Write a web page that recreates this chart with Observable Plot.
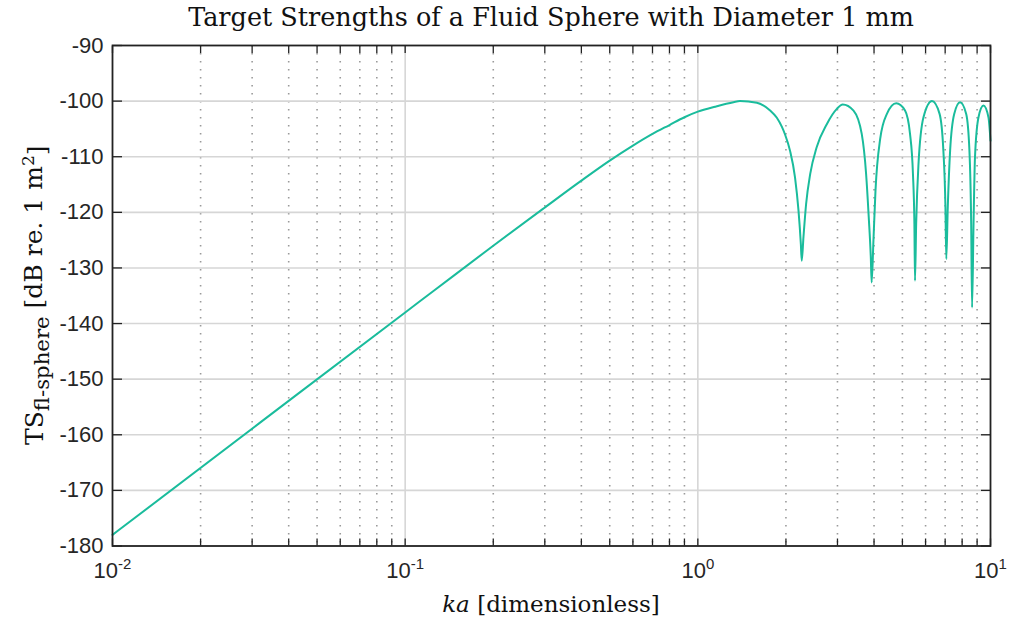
<!DOCTYPE html>
<html>
<head>
<meta charset="utf-8">
<script src="https://cdn.jsdelivr.net/npm/d3@7"></script>
<script src="https://cdn.jsdelivr.net/npm/@observablehq/plot@0.6"></script>
<style>
  html, body { margin: 0; padding: 0; background: #fff; }
  #title { width: 1010px; box-sizing: border-box; padding-left: 112px; padding-right: 20px; height: 34px;
           text-align: center; font-family: "DejaVu Serif", serif; font-size: 25.5px; line-height: 34px; color: #111; white-space: nowrap; }
</style>
</head>
<body>
<div id="title">Target Strengths of a Fluid Sphere with Diameter 1 mm</div>
<div id="chart"></div>
<script>
// ka [dimensionless]
const ka = [0.01, 0.0316, 0.1, 0.1246, 0.2, 0.297, 0.40, 0.50, 0.60, 0.70, 0.80, 0.90, 1.00, 1.146, 1.324, 1.393,
  1.591, 1.766, 1.862, 1.936, 1.986, 2.065, 2.148, 2.208, 2.249, 2.265, 2.296, 2.344, 2.421, 2.547, 2.761, 2.985, 3.126,
  3.404, 3.631, 3.758, 3.837, 3.899, 3.926, 3.981, 4.046, 4.198, 4.426, 4.764,
  5.105, 5.309, 5.433, 5.495, 5.521, 5.572, 5.675, 5.902, 6.310,
  6.699, 6.902, 7.015, 7.063, 7.145, 7.278, 7.516, 7.870,
  8.260, 8.472, 8.590, 8.650, 8.750, 8.851, 9.099, 9.462, 9.840, 10.0];
// TS [dB re. 1 m^2]
const ts = [-178.0, -158.0, -138.0, -134.2, -126.0, -119.3, -114.3, -110.7, -108.0, -105.9, -104.3, -102.9, -101.9, -101.0, -100.2, -100.0,
  -100.3, -101.7, -103.0, -104.6, -106.0, -108.9, -113.7, -119.7, -125.7, -128.7, -124.4, -118.5, -113.1, -108.3, -104.1, -101.4, -100.6,
  -101.7, -105.9, -113.1, -120.9, -128.0, -132.6, -125.1, -116.1, -106.8, -102.3, -100.4,
  -101.7, -105.9, -113.1, -122.1, -132.3, -122.1, -111.3, -102.9, -100.0,
  -102.3, -108.9, -119.1, -128.4, -119.1, -108.9, -102.3, -100.2,
  -102.3, -108.9, -122.1, -137.1, -122.1, -110.1, -102.9, -100.8, -102.9, -107.1];

const xMajor = [0.01, 0.1, 1, 10];
const xMinor = [0.02, 0.03, 0.04, 0.05, 0.06, 0.07, 0.08, 0.09,
                0.2, 0.3, 0.4, 0.5, 0.6, 0.7, 0.8, 0.9,
                2, 3, 4, 5, 6, 7, 8, 9];
const yTicks = [-180, -170, -160, -150, -140, -130, -120, -110, -100, -90];

const data = ka.map((k, i) => ({ka: k, ts: ts[i]}));

const gridColor = "#d6d6d6";
const axisColor = "#222";
const tickFont = "'Liberation Sans', Arial, sans-serif";

const chart = Plot.plot({
  width: 1010,
  height: 584,
  marginTop: 11,
  marginLeft: 112,
  marginRight: 20,
  marginBottom: 72.5,
  style: {background: "#fff", fontFamily: tickFont},
  x: {type: "log", domain: [0.01, 10], label: null},
  y: {domain: [-180, -90], label: null},
  marks: [
    Plot.gridX(xMinor, {stroke: "#9a9a9a", strokeOpacity: 1, strokeWidth: 1.6, strokeDasharray: "1.6,6.4"}),
    Plot.gridX(xMajor.slice(1, -1), {stroke: gridColor, strokeOpacity: 1, strokeWidth: 1.6}),
    Plot.gridY(yTicks.slice(1, -1), {stroke: gridColor, strokeOpacity: 1, strokeWidth: 1.6}),
    Plot.line(data, {x: "ka", y: "ts", stroke: "#1abc9c", strokeWidth: 2, curve: "monotone-x"}),
    Plot.frame({stroke: axisColor, strokeWidth: 1.8}),
    Plot.axisX([...xMajor, ...xMinor], {anchor: "bottom", tickSize: -7, tickFormat: () => "", stroke: axisColor, strokeWidth: 1.3, label: null}),
    Plot.axisX([...xMajor, ...xMinor], {anchor: "top", tickSize: -7, tickFormat: () => "", stroke: axisColor, strokeWidth: 1.3, label: null}),
    Plot.axisY(yTicks, {anchor: "left", tickSize: -10, tickFormat: () => "", stroke: axisColor, strokeWidth: 1.3, label: null}),
    Plot.axisY(yTicks, {anchor: "right", tickSize: -10, tickFormat: () => "", stroke: axisColor, strokeWidth: 1.3, label: null}),
    Plot.axisX(xMajor, {anchor: "bottom", tickSize: 0, tickPadding: 16, fontSize: 22, fill: "#262626",
      tickFormat: d => String(Math.round(Math.log10(d))), label: null}),
    Plot.axisY(yTicks, {anchor: "left", tickSize: 0, tickPadding: 9, fontSize: 22, fill: "#262626",
      tickFormat: d => String(d), label: null})
  ]
});

document.getElementById("chart").appendChild(chart);
const svg = d3.select(chart);

// drop empty tick texts from tick-only axes
svg.selectAll('g[aria-label="x-axis tick label"] text, g[aria-label="y-axis tick label"] text').each(function() {
  if (this.textContent === "") this.remove();
});

// exponent-style x tick labels: 10^n
svg.selectAll('g[aria-label="x-axis tick label"] text').each(function() {
  const exp = this.textContent;
  const t = d3.select(this);
  t.text(null);
  t.append("tspan").text("10");
  t.append("tspan").attr("dy", "-0.55em").attr("font-size", "0.68em").text(exp);
});

const [x0, x1] = chart.scale("x").range;
const [y0, y1] = chart.scale("y").range; // y0 bottom, y1 top
const serif = "'DejaVu Serif', serif";

// x label
const xl = svg.append("text")
  .attr("x", (x0 + x1) / 2).attr("y", y0 + 66)
  .attr("text-anchor", "middle").attr("font-family", serif).attr("font-size", 23).attr("fill", "#111");
xl.append("tspan").attr("font-style", "italic").text("ka");
xl.append("tspan").text(" [dimensionless]");

// y label
const yl = svg.append("text")
  .attr("transform", `translate(${34}, ${(y0 + y1) / 2}) rotate(-90)`)
  .attr("text-anchor", "middle").attr("dy", "0.35em").attr("font-family", serif).attr("font-size", 25).attr("fill", "#111");
yl.append("tspan").text("TS");
yl.append("tspan").attr("dy", "0.3em").attr("font-size", "0.85em").text("fl-sphere");
yl.append("tspan").attr("dy", "-0.3em").text(" [dB re. 1 m");
yl.append("tspan").attr("dy", "-0.45em").attr("font-size", "0.68em").text("2");
yl.append("tspan").attr("dy", "0.45em").text("]");
</script>
</body>
</html>
